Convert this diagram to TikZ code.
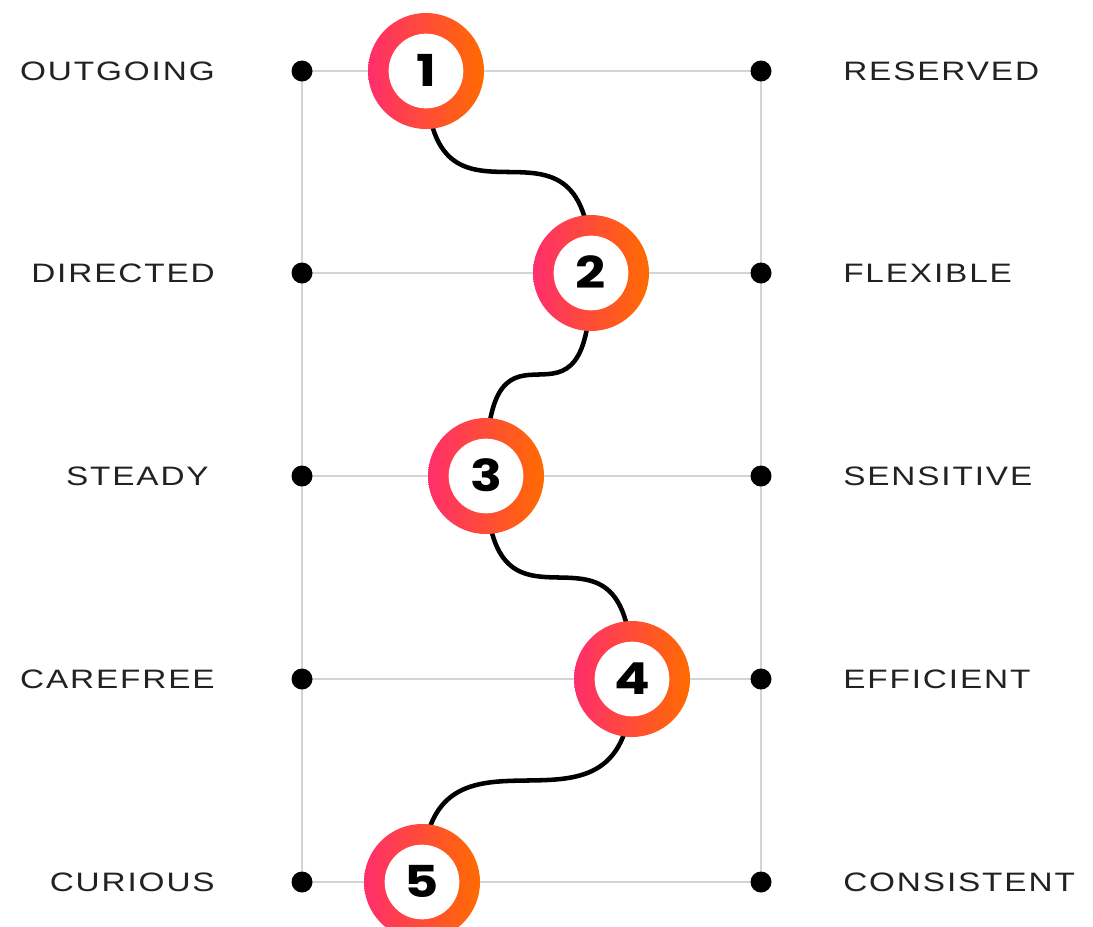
\documentclass[tikz,border=0pt]{standalone}
\usepackage{fontspec}
\setmainfont{Liberation Sans}[FakeStretch=1.25, LetterSpace=7]
\newfontfamily\numfont{Poppins}[FakeStretch=1.2]
\usetikzlibrary{backgrounds}

\definecolor{ringpink}{HTML}{FF2E6C}
\definecolor{ringorange}{HTML}{FF6B00}
\definecolor{guidegray}{HTML}{D4D4D4}
\definecolor{labelgray}{HTML}{222222}

\tikzset{
  trait/.style={font=\fontsize{20}{20}\selectfont, text=labelgray,
    inner sep=0pt, text height=14.3pt, text depth=0pt},
  guide/.style={draw=guidegray, line width=1.5pt},
  dotmark/.style={circle, fill=black, inner sep=0pt, minimum size=15.75pt},
  ring/.style={circle, inner sep=0pt, minimum size=87pt,
    left color=ringpink, right color=ringorange,
    path picture={\fill[white] (path picture bounding box.center) circle (28pt);},
    font=\numfont\bfseries\fontsize{33}{33}\selectfont,
    text height=23.5pt, text depth=0pt},
  wave/.style={line width=3.4pt, black}
}

\begin{document}
\begin{tikzpicture}[x=0.75pt, y=-0.75pt]
  \useasboundingbox (0,0) rectangle (1093,926);

  % Trait scale ends
  \node[dotmark] (L1) at (302,71) {};
  \node[dotmark] (L2) at (302,273) {};
  \node[dotmark] (L3) at (302,476) {};
  \node[dotmark] (L4) at (302,679) {};
  \node[dotmark] (L5) at (302,882) {};
  \node[dotmark] (R1) at (761,71) {};
  \node[dotmark] (R2) at (761,273) {};
  \node[dotmark] (R3) at (761,476) {};
  \node[dotmark] (R4) at (761,679) {};
  \node[dotmark] (R5) at (761,882) {};

  % Left labels
  \node[trait, anchor=east] (t1) at (215,71) {OUTGOING};
  \node[trait, anchor=east] (t2) at (215,273) {DIRECTED};
  \node[trait, anchor=east] (t3) at (209,476) {STEADY};
  \node[trait, anchor=east] (t4) at (215,679) {CAREFREE};
  \node[trait, anchor=east] (t5) at (215,882) {CURIOUS};

  % Right labels
  \node[trait, anchor=west] (u1) at (843,71) {RESERVED};
  \node[trait, anchor=west] (u2) at (843,273) {FLEXIBLE};
  \node[trait, anchor=west] (u3) at (843,476) {SENSITIVE};
  \node[trait, anchor=west] (u4) at (843,679) {EFFICIENT};
  \node[trait, anchor=west] (u5) at (843,882) {CONSISTENT};

  % Scores
  \node[ring] (s1) at (426,71) {1};
  \node[ring] (s2) at (591,273) {2};
  \node[ring] (s3) at (486,476) {3};
  \node[ring] (s4) at (632,679) {4};
  \node[ring] (s5) at (422,882) {5};

  \begin{pgfonlayer}{background}
    % Grid
    \draw[guide] (L1.center) -- (L5.center);
    \draw[guide] (R1.center) -- (R5.center);
    \draw[guide] (L1.center) -- (R1.center);
    \draw[guide] (L2.center) -- (R2.center);
    \draw[guide] (L3.center) -- (R3.center);
    \draw[guide] (L4.center) -- (R4.center);
    \draw[guide] (L5.center) -- (R5.center);

    % Profile line
    \draw[wave] (s1.center) .. controls +(0,200) and +(0,-200) .. (s2.center);
    \draw[wave] (s2.center) .. controls +(0,200) and +(0,-200) .. (s3.center);
    \draw[wave] (s3.center) .. controls +(0,200) and +(0,-200) .. (s4.center);
    \draw[wave] (s4.center) .. controls +(0,200) and +(0,-200) .. (s5.center);
  \end{pgfonlayer}
\end{tikzpicture}
\end{document}
